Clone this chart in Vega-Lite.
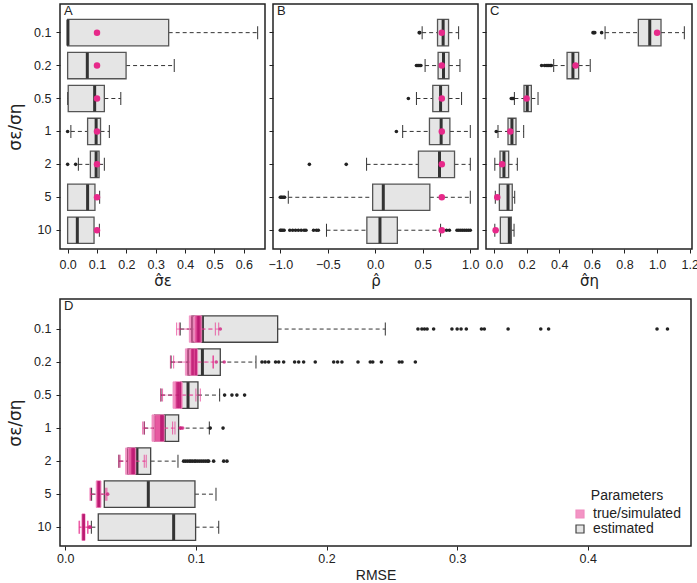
{
  "$schema": "https://vega.github.io/schema/vega-lite/v6.json",
  "padding": {"left": 5, "top": 3, "right": 6, "bottom": 2},
  "resolve": {"legend": {"fill": "independent", "stroke": "independent"}, "scale": {"fill": "independent", "stroke": "independent"}},
  "datasets": {
    "box": [
      {"p":"A","r":"0.1","g":"estimated","lo":0,"q1":0,"md":0.001,"q3":0.344,"hi":0.647},
      {"p":"A","r":"0.2","g":"estimated","lo":0,"q1":0,"md":0.067,"q3":0.199,"hi":0.363},
      {"p":"A","r":"0.5","g":"estimated","lo":0,"q1":0.002,"md":0.092,"q3":0.125,"hi":0.181},
      {"p":"A","r":"1","g":"estimated","lo":0.011,"q1":0.068,"md":0.097,"q3":0.112,"hi":0.142},
      {"p":"A","r":"2","g":"estimated","lo":0.0365,"q1":0.0774,"md":0.097,"q3":0.107,"hi":0.125},
      {"p":"A","r":"5","g":"estimated","lo":0,"q1":0,"md":0.068,"q3":0.093,"hi":0.109},
      {"p":"A","r":"10","g":"estimated","lo":0,"q1":0,"md":0.033,"q3":0.0899,"hi":0.108},
      {"p":"B","r":"0.1","g":"estimated","lo":0.493,"q1":0.655,"md":0.714,"q3":0.771,"hi":0.877},
      {"p":"B","r":"0.2","g":"estimated","lo":0.524,"q1":0.661,"md":0.718,"q3":0.775,"hi":0.891},
      {"p":"B","r":"0.5","g":"estimated","lo":0.433,"q1":0.605,"md":0.687,"q3":0.771,"hi":0.908},
      {"p":"B","r":"1","g":"estimated","lo":0.288,"q1":0.57,"md":0.693,"q3":0.785,"hi":1.0},
      {"p":"B","r":"2","g":"estimated","lo":-0.092,"q1":0.454,"md":0.676,"q3":0.834,"hi":1.0},
      {"p":"B","r":"5","g":"estimated","lo":-0.916,"q1":-0.028,"md":0.084,"q3":0.574,"hi":1.0},
      {"p":"B","r":"10","g":"estimated","lo":-0.514,"q1":-0.089,"md":0.049,"q3":0.232,"hi":0.687},
      {"p":"C","r":"0.1","g":"estimated","lo":0.681,"q1":0.885,"md":0.955,"q3":1.024,"hi":1.167},
      {"p":"C","r":"0.2","g":"estimated","lo":0.366,"q1":0.448,"md":0.484,"q3":0.519,"hi":0.59},
      {"p":"C","r":"0.5","g":"estimated","lo":0.125,"q1":0.184,"md":0.204,"q3":0.229,"hi":0.27},
      {"p":"C","r":"1","g":"estimated","lo":0.0245,"q1":0.086,"md":0.11,"q3":0.135,"hi":0.182},
      {"p":"C","r":"2","g":"estimated","lo":0.005,"q1":0.037,"md":0.061,"q3":0.09,"hi":0.143},
      {"p":"C","r":"5","g":"estimated","lo":0.008,"q1":0.033,"md":0.086,"q3":0.112,"hi":0.127},
      {"p":"C","r":"10","g":"estimated","lo":0.005,"q1":0.039,"md":0.094,"q3":0.106,"hi":0.123},
      {"p":"D","r":"0.1","g":"estimated","lo":0.088,"q1":0.097,"md":0.105,"q3":0.1626,"hi":0.245},
      {"p":"D","r":"0.2","g":"estimated","lo":0.081,"q1":0.094,"md":0.105,"q3":0.1187,"hi":0.146},
      {"p":"D","r":"0.5","g":"estimated","lo":0.0733,"q1":0.0884,"md":0.094,"q3":0.1016,"hi":0.1182},
      {"p":"D","r":"1","g":"estimated","lo":0.0605,"q1":0.0684,"md":0.0758,"q3":0.0868,"hi":0.1103},
      {"p":"D","r":"2","g":"estimated","lo":0.0411,"q1":0.048,"md":0.0549,"q3":0.0654,"hi":0.0863},
      {"p":"D","r":"5","g":"estimated","lo":0.0202,"q1":0.0299,"md":0.0636,"q3":0.0993,"hi":0.1154},
      {"p":"D","r":"10","g":"estimated","lo":0.02,"q1":0.0253,"md":0.083,"q3":0.0998,"hi":0.1175},
      {"p":"D","r":"0.1","g":"true/simulated","lo":0.0853,"q1":0.095,"md":0.1015,"q3":0.104,"hi":0.1149},
      {"p":"D","r":"0.1","g":"true/simulated","lo":0.0873,"q1":0.099,"md":0.1025,"q3":0.1045,"hi":0.1175},
      {"p":"D","r":"0.2","g":"true/simulated","lo":0.0805,"q1":0.092,"md":0.0975,"q3":0.1005,"hi":0.113},
      {"p":"D","r":"0.2","g":"true/simulated","lo":0.083,"q1":0.0957,"md":0.1,"q3":0.1014,"hi":0.1135},
      {"p":"D","r":"0.5","g":"true/simulated","lo":0.073,"q1":0.0825,"md":0.086,"q3":0.0892,"hi":0.1034},
      {"p":"D","r":"0.5","g":"true/simulated","lo":0.0745,"q1":0.084,"md":0.0875,"q3":0.0895,"hi":0.1},
      {"p":"D","r":"1","g":"true/simulated","lo":0.0593,"q1":0.0664,"md":0.0735,"q3":0.0755,"hi":0.0822},
      {"p":"D","r":"1","g":"true/simulated","lo":0.0605,"q1":0.0684,"md":0.0745,"q3":0.0758,"hi":0.084},
      {"p":"D","r":"2","g":"true/simulated","lo":0.041,"q1":0.0462,"md":0.0515,"q3":0.0535,"hi":0.062},
      {"p":"D","r":"2","g":"true/simulated","lo":0.042,"q1":0.0485,"md":0.0525,"q3":0.054,"hi":0.0605},
      {"p":"D","r":"5","g":"true/simulated","lo":0.019,"q1":0.0237,"md":0.0255,"q3":0.0273,"hi":0.0319},
      {"p":"D","r":"5","g":"true/simulated","lo":0.0195,"q1":0.024,"md":0.026,"q3":0.0272,"hi":0.031},
      {"p":"D","r":"10","g":"true/simulated","lo":0.0105,"q1":0.0128,"md":0.014,"q3":0.0151,"hi":0.0171},
      {"p":"D","r":"10","g":"true/simulated","lo":0.011,"q1":0.013,"md":0.0142,"q3":0.015,"hi":0.0175}
    ],
    "out": [
      {"p":"A","r":"1","g":"estimated","v":0.0},
      {"p":"A","r":"2","g":"estimated","v":0.0},
      {"p":"A","r":"2","g":"estimated","v":0.0273},
      {"p":"B","r":"0.1","g":"estimated","v":0.462},
      {"p":"B","r":"0.1","g":"estimated","v":0.468},
      {"p":"B","r":"0.2","g":"estimated","v":0.433},
      {"p":"B","r":"0.2","g":"estimated","v":0.447},
      {"p":"B","r":"0.2","g":"estimated","v":0.457},
      {"p":"B","r":"0.2","g":"estimated","v":0.47},
      {"p":"B","r":"0.2","g":"estimated","v":0.48},
      {"p":"B","r":"0.5","g":"estimated","v":0.348},
      {"p":"B","r":"1","g":"estimated","v":0.222},
      {"p":"B","r":"2","g":"estimated","v":-0.694},
      {"p":"B","r":"2","g":"estimated","v":-0.306},
      {"p":"B","r":"5","g":"estimated","v":-1.0},
      {"p":"B","r":"5","g":"estimated","v":-0.99},
      {"p":"B","r":"5","g":"estimated","v":-0.98},
      {"p":"B","r":"5","g":"estimated","v":-0.965},
      {"p":"B","r":"5","g":"estimated","v":-0.955},
      {"p":"B","r":"10","g":"estimated","v":-1.0},
      {"p":"B","r":"10","g":"estimated","v":-0.99},
      {"p":"B","r":"10","g":"estimated","v":-0.975},
      {"p":"B","r":"10","g":"estimated","v":-0.96},
      {"p":"B","r":"10","g":"estimated","v":-0.9},
      {"p":"B","r":"10","g":"estimated","v":-0.87},
      {"p":"B","r":"10","g":"estimated","v":-0.84},
      {"p":"B","r":"10","g":"estimated","v":-0.81},
      {"p":"B","r":"10","g":"estimated","v":-0.78},
      {"p":"B","r":"10","g":"estimated","v":-0.75},
      {"p":"B","r":"10","g":"estimated","v":-0.73},
      {"p":"B","r":"10","g":"estimated","v":-0.65},
      {"p":"B","r":"10","g":"estimated","v":-0.62},
      {"p":"B","r":"10","g":"estimated","v":-0.6},
      {"p":"B","r":"10","g":"estimated","v":0.75},
      {"p":"B","r":"10","g":"estimated","v":0.78},
      {"p":"B","r":"10","g":"estimated","v":0.86},
      {"p":"B","r":"10","g":"estimated","v":0.88},
      {"p":"B","r":"10","g":"estimated","v":0.9},
      {"p":"B","r":"10","g":"estimated","v":0.92},
      {"p":"B","r":"10","g":"estimated","v":0.94},
      {"p":"B","r":"10","g":"estimated","v":0.96},
      {"p":"B","r":"10","g":"estimated","v":0.98},
      {"p":"B","r":"10","g":"estimated","v":1.0},
      {"p":"C","r":"0.1","g":"estimated","v":0.607},
      {"p":"C","r":"0.1","g":"estimated","v":0.612},
      {"p":"C","r":"0.1","g":"estimated","v":0.618},
      {"p":"C","r":"0.1","g":"estimated","v":0.66},
      {"p":"C","r":"0.2","g":"estimated","v":0.292},
      {"p":"C","r":"0.2","g":"estimated","v":0.31},
      {"p":"C","r":"0.2","g":"estimated","v":0.32},
      {"p":"C","r":"0.2","g":"estimated","v":0.33},
      {"p":"C","r":"0.2","g":"estimated","v":0.337},
      {"p":"C","r":"0.2","g":"estimated","v":0.345},
      {"p":"C","r":"0.2","g":"estimated","v":0.352},
      {"p":"C","r":"0.5","g":"estimated","v":0.106},
      {"p":"C","r":"0.5","g":"estimated","v":0.112},
      {"p":"C","r":"0.5","g":"estimated","v":0.118},
      {"p":"C","r":"1","g":"estimated","v":0.014},
      {"p":"D","r":"0.1","g":"estimated","v":0.27},
      {"p":"D","r":"0.1","g":"estimated","v":0.273},
      {"p":"D","r":"0.1","g":"estimated","v":0.275},
      {"p":"D","r":"0.1","g":"estimated","v":0.277},
      {"p":"D","r":"0.1","g":"estimated","v":0.282},
      {"p":"D","r":"0.1","g":"estimated","v":0.296},
      {"p":"D","r":"0.1","g":"estimated","v":0.3},
      {"p":"D","r":"0.1","g":"estimated","v":0.303},
      {"p":"D","r":"0.1","g":"estimated","v":0.307},
      {"p":"D","r":"0.1","g":"estimated","v":0.3186},
      {"p":"D","r":"0.1","g":"estimated","v":0.3208},
      {"p":"D","r":"0.1","g":"estimated","v":0.339},
      {"p":"D","r":"0.1","g":"estimated","v":0.364},
      {"p":"D","r":"0.1","g":"estimated","v":0.37},
      {"p":"D","r":"0.1","g":"estimated","v":0.453},
      {"p":"D","r":"0.1","g":"estimated","v":0.461},
      {"p":"D","r":"0.2","g":"estimated","v":0.1506},
      {"p":"D","r":"0.2","g":"estimated","v":0.153},
      {"p":"D","r":"0.2","g":"estimated","v":0.1557},
      {"p":"D","r":"0.2","g":"estimated","v":0.161},
      {"p":"D","r":"0.2","g":"estimated","v":0.1634},
      {"p":"D","r":"0.2","g":"estimated","v":0.1672},
      {"p":"D","r":"0.2","g":"estimated","v":0.1756},
      {"p":"D","r":"0.2","g":"estimated","v":0.1787},
      {"p":"D","r":"0.2","g":"estimated","v":0.1825},
      {"p":"D","r":"0.2","g":"estimated","v":0.1914},
      {"p":"D","r":"0.2","g":"estimated","v":0.2055},
      {"p":"D","r":"0.2","g":"estimated","v":0.2085},
      {"p":"D","r":"0.2","g":"estimated","v":0.2118},
      {"p":"D","r":"0.2","g":"estimated","v":0.2241},
      {"p":"D","r":"0.2","g":"estimated","v":0.2335},
      {"p":"D","r":"0.2","g":"estimated","v":0.2354},
      {"p":"D","r":"0.2","g":"estimated","v":0.242},
      {"p":"D","r":"0.2","g":"estimated","v":0.2557},
      {"p":"D","r":"0.2","g":"estimated","v":0.2578},
      {"p":"D","r":"0.2","g":"estimated","v":0.268},
      {"p":"D","r":"0.5","g":"estimated","v":0.122},
      {"p":"D","r":"0.5","g":"estimated","v":0.1276},
      {"p":"D","r":"0.5","g":"estimated","v":0.1314},
      {"p":"D","r":"0.5","g":"estimated","v":0.1373},
      {"p":"D","r":"1","g":"estimated","v":0.111},
      {"p":"D","r":"1","g":"estimated","v":0.1208},
      {"p":"D","r":"2","g":"estimated","v":0.0906},
      {"p":"D","r":"2","g":"estimated","v":0.092},
      {"p":"D","r":"2","g":"estimated","v":0.0935},
      {"p":"D","r":"2","g":"estimated","v":0.095},
      {"p":"D","r":"2","g":"estimated","v":0.0962},
      {"p":"D","r":"2","g":"estimated","v":0.0975},
      {"p":"D","r":"2","g":"estimated","v":0.099},
      {"p":"D","r":"2","g":"estimated","v":0.1},
      {"p":"D","r":"2","g":"estimated","v":0.1015},
      {"p":"D","r":"2","g":"estimated","v":0.103},
      {"p":"D","r":"2","g":"estimated","v":0.1045},
      {"p":"D","r":"2","g":"estimated","v":0.106},
      {"p":"D","r":"2","g":"estimated","v":0.1075},
      {"p":"D","r":"2","g":"estimated","v":0.109},
      {"p":"D","r":"2","g":"estimated","v":0.1098},
      {"p":"D","r":"2","g":"estimated","v":0.1136},
      {"p":"D","r":"2","g":"estimated","v":0.1213},
      {"p":"D","r":"2","g":"estimated","v":0.1238},
      {"p":"D","r":"0.1","g":"true/simulated","v":0.1187},
      {"p":"D","r":"0.2","g":"true/simulated","v":0.1156},
      {"p":"D","r":"0.2","g":"true/simulated","v":0.1217},
      {"p":"D","r":"1","g":"true/simulated","v":0.088},
      {"p":"D","r":"1","g":"true/simulated","v":0.0885},
      {"p":"D","r":"1","g":"true/simulated","v":0.0899},
      {"p":"D","r":"5","g":"true/simulated","v":0.0325},
      {"p":"D","r":"10","g":"true/simulated","v":0.0185},
      {"p":"D","r":"10","g":"true/simulated","v":0.0191}
    ],
    "truth": [
      {"p":"A","r":"0.1","v":0.1},{"p":"A","r":"0.2","v":0.1},{"p":"A","r":"0.5","v":0.1},{"p":"A","r":"1","v":0.1},{"p":"A","r":"2","v":0.1},{"p":"A","r":"5","v":0.1},{"p":"A","r":"10","v":0.1},
      {"p":"B","r":"0.1","v":0.7},{"p":"B","r":"0.2","v":0.7},{"p":"B","r":"0.5","v":0.7},{"p":"B","r":"1","v":0.7},{"p":"B","r":"2","v":0.7},{"p":"B","r":"5","v":0.7},{"p":"B","r":"10","v":0.7},
      {"p":"C","r":"0.1","v":1.0},{"p":"C","r":"0.2","v":0.5},{"p":"C","r":"0.5","v":0.2},{"p":"C","r":"1","v":0.1},{"p":"C","r":"2","v":0.05},{"p":"C","r":"5","v":0.02},{"p":"C","r":"10","v":0.01}
    ]
  },
  "vconcat": [
    {
      "hconcat": [
        {
          "width": 205, "height": 245,
          "title": {"text": "A"},
          "encoding": {"y": {"field": "r", "type": "ordinal", "sort": ["0.1","0.2","0.5","1","2","5","10"],
            "scale": {"domain": ["0.1","0.2","0.5","1","2","5","10"], "paddingInner": 0.2, "paddingOuter": 0.32, "align": 0.734},
            "axis": {"title": "σε/ση", "labelPadding": 5, "titlePadding": 9, "titleFontSize": 17}}},
          "layer": [
            {"data": {"name": "box"}, "transform": [{"filter": "datum.p === 'A'"}],
             "mark": {"type": "rule", "strokeDash": [4, 3], "color": "#333", "strokeWidth": 1},
             "encoding": {"x": {"field": "lo", "type": "quantitative", "scale": {"domain": [-0.026, 0.672], "nice": false, "zero": false},
               "axis": {"title": "σ̂ε", "values": [0, 0.1, 0.2, 0.3, 0.4, 0.5, 0.6], "format": ".1f", "labelOverlap": false}}, "x2": {"field": "q1"}}},
            {"data": {"name": "box"}, "transform": [{"filter": "datum.p === 'A'"}],
             "mark": {"type": "rule", "strokeDash": [4, 3], "color": "#333", "strokeWidth": 1},
             "encoding": {"x": {"field": "q3", "type": "quantitative", "axis": {"title": "σ̂ε", "values": [0, 0.1, 0.2, 0.3, 0.4, 0.5, 0.6], "format": ".1f", "labelOverlap": false}}, "x2": {"field": "hi"}}},
            {"data": {"name": "box"}, "transform": [{"filter": "datum.p === 'A'"}],
             "mark": {"type": "tick", "size": 13, "thickness": 1, "color": "#333", "opacity": 1},
             "encoding": {"x": {"field": "lo", "type": "quantitative", "axis": {"title": "σ̂ε", "values": [0, 0.1, 0.2, 0.3, 0.4, 0.5, 0.6], "format": ".1f", "labelOverlap": false}}}},
            {"data": {"name": "box"}, "transform": [{"filter": "datum.p === 'A'"}],
             "mark": {"type": "tick", "size": 13, "thickness": 1, "color": "#333", "opacity": 1},
             "encoding": {"x": {"field": "hi", "type": "quantitative", "axis": {"title": "σ̂ε", "values": [0, 0.1, 0.2, 0.3, 0.4, 0.5, 0.6], "format": ".1f", "labelOverlap": false}}}},
            {"data": {"name": "box"}, "transform": [{"filter": "datum.p === 'A'"}],
             "mark": {"type": "bar", "fill": "#E5E5E5", "stroke": "#555", "strokeWidth": 1.3},
             "encoding": {"x": {"field": "q1", "type": "quantitative", "axis": {"title": "σ̂ε", "values": [0, 0.1, 0.2, 0.3, 0.4, 0.5, 0.6], "format": ".1f", "labelOverlap": false}}, "x2": {"field": "q3"}}},
            {"data": {"name": "box"}, "transform": [{"filter": "datum.p === 'A'"}],
             "mark": {"type": "tick", "size": 26, "thickness": 3, "color": "#333", "opacity": 1},
             "encoding": {"x": {"field": "md", "type": "quantitative", "axis": {"title": "σ̂ε", "values": [0, 0.1, 0.2, 0.3, 0.4, 0.5, 0.6], "format": ".1f", "labelOverlap": false}}}},
            {"data": {"name": "out"}, "transform": [{"filter": "datum.p === 'A'"}],
             "mark": {"type": "circle", "size": 13, "color": "#222", "opacity": 1},
             "encoding": {"x": {"field": "v", "type": "quantitative", "axis": {"title": "σ̂ε", "values": [0, 0.1, 0.2, 0.3, 0.4, 0.5, 0.6], "format": ".1f", "labelOverlap": false}}}},
            {"data": {"name": "truth"}, "transform": [{"filter": "datum.p === 'A'"}],
             "mark": {"type": "circle", "size": 42, "color": "#E7298A", "opacity": 1},
             "encoding": {"x": {"field": "v", "type": "quantitative", "axis": {"title": "σ̂ε", "values": [0, 0.1, 0.2, 0.3, 0.4, 0.5, 0.6], "format": ".1f", "labelOverlap": false}}}}
          ]
        },
        {
          "width": 205, "height": 245,
          "title": {"text": "B"},
          "encoding": {"y": {"field": "r", "type": "ordinal", "sort": ["0.1","0.2","0.5","1","2","5","10"],
            "scale": {"domain": ["0.1","0.2","0.5","1","2","5","10"], "paddingInner": 0.2, "paddingOuter": 0.32, "align": 0.734},
            "axis": {"title": null, "labels": false}}},
          "layer": [
            {"data": {"name": "box"}, "transform": [{"filter": "datum.p === 'B'"}],
             "mark": {"type": "rule", "strokeDash": [4, 3], "color": "#333", "strokeWidth": 1},
             "encoding": {"x": {"field": "lo", "type": "quantitative", "scale": {"domain": [-1.077, 1.081], "nice": false, "zero": false},
               "axis": {"title": "ρ̂", "values": [-1, -0.5, 0, 0.5, 1], "format": ".1f", "labelOverlap": false}}, "x2": {"field": "q1"}}},
            {"data": {"name": "box"}, "transform": [{"filter": "datum.p === 'B'"}],
             "mark": {"type": "rule", "strokeDash": [4, 3], "color": "#333", "strokeWidth": 1},
             "encoding": {"x": {"field": "q3", "type": "quantitative", "axis": {"title": "ρ̂", "values": [-1, -0.5, 0, 0.5, 1], "format": ".1f", "labelOverlap": false}}, "x2": {"field": "hi"}}},
            {"data": {"name": "box"}, "transform": [{"filter": "datum.p === 'B'"}],
             "mark": {"type": "tick", "size": 13, "thickness": 1, "color": "#333", "opacity": 1},
             "encoding": {"x": {"field": "lo", "type": "quantitative", "axis": {"title": "ρ̂", "values": [-1, -0.5, 0, 0.5, 1], "format": ".1f", "labelOverlap": false}}}},
            {"data": {"name": "box"}, "transform": [{"filter": "datum.p === 'B'"}],
             "mark": {"type": "tick", "size": 13, "thickness": 1, "color": "#333", "opacity": 1},
             "encoding": {"x": {"field": "hi", "type": "quantitative", "axis": {"title": "ρ̂", "values": [-1, -0.5, 0, 0.5, 1], "format": ".1f", "labelOverlap": false}}}},
            {"data": {"name": "box"}, "transform": [{"filter": "datum.p === 'B'"}],
             "mark": {"type": "bar", "fill": "#E5E5E5", "stroke": "#555", "strokeWidth": 1.3},
             "encoding": {"x": {"field": "q1", "type": "quantitative", "axis": {"title": "ρ̂", "values": [-1, -0.5, 0, 0.5, 1], "format": ".1f", "labelOverlap": false}}, "x2": {"field": "q3"}}},
            {"data": {"name": "box"}, "transform": [{"filter": "datum.p === 'B'"}],
             "mark": {"type": "tick", "size": 26, "thickness": 3, "color": "#333", "opacity": 1},
             "encoding": {"x": {"field": "md", "type": "quantitative", "axis": {"title": "ρ̂", "values": [-1, -0.5, 0, 0.5, 1], "format": ".1f", "labelOverlap": false}}}},
            {"data": {"name": "out"}, "transform": [{"filter": "datum.p === 'B'"}],
             "mark": {"type": "circle", "size": 13, "color": "#222", "opacity": 1},
             "encoding": {"x": {"field": "v", "type": "quantitative", "axis": {"title": "ρ̂", "values": [-1, -0.5, 0, 0.5, 1], "format": ".1f", "labelOverlap": false}}}},
            {"data": {"name": "truth"}, "transform": [{"filter": "datum.p === 'B'"}],
             "mark": {"type": "circle", "size": 42, "color": "#E7298A", "opacity": 1},
             "encoding": {"x": {"field": "v", "type": "quantitative", "axis": {"title": "ρ̂", "values": [-1, -0.5, 0, 0.5, 1], "format": ".1f", "labelOverlap": false}}}}
          ]
        },
        {
          "width": 206, "height": 245,
          "title": {"text": "C"},
          "encoding": {"y": {"field": "r", "type": "ordinal", "sort": ["0.1","0.2","0.5","1","2","5","10"],
            "scale": {"domain": ["0.1","0.2","0.5","1","2","5","10"], "paddingInner": 0.2, "paddingOuter": 0.32, "align": 0.734},
            "axis": {"title": null, "labels": false}}},
          "layer": [
            {"data": {"name": "box"}, "transform": [{"filter": "datum.p === 'C'"}],
             "mark": {"type": "rule", "strokeDash": [4, 3], "color": "#333", "strokeWidth": 1},
             "encoding": {"x": {"field": "lo", "type": "quantitative", "scale": {"domain": [-0.049, 1.214], "nice": false, "zero": false},
               "axis": {"title": "σ̂η", "values": [0, 0.2, 0.4, 0.6, 0.8, 1.0, 1.2], "format": ".1f", "labelOverlap": false}}, "x2": {"field": "q1"}}},
            {"data": {"name": "box"}, "transform": [{"filter": "datum.p === 'C'"}],
             "mark": {"type": "rule", "strokeDash": [4, 3], "color": "#333", "strokeWidth": 1},
             "encoding": {"x": {"field": "q3", "type": "quantitative", "axis": {"title": "σ̂η", "values": [0, 0.2, 0.4, 0.6, 0.8, 1.0, 1.2], "format": ".1f", "labelOverlap": false}}, "x2": {"field": "hi"}}},
            {"data": {"name": "box"}, "transform": [{"filter": "datum.p === 'C'"}],
             "mark": {"type": "tick", "size": 13, "thickness": 1, "color": "#333", "opacity": 1},
             "encoding": {"x": {"field": "lo", "type": "quantitative", "axis": {"title": "σ̂η", "values": [0, 0.2, 0.4, 0.6, 0.8, 1.0, 1.2], "format": ".1f", "labelOverlap": false}}}},
            {"data": {"name": "box"}, "transform": [{"filter": "datum.p === 'C'"}],
             "mark": {"type": "tick", "size": 13, "thickness": 1, "color": "#333", "opacity": 1},
             "encoding": {"x": {"field": "hi", "type": "quantitative", "axis": {"title": "σ̂η", "values": [0, 0.2, 0.4, 0.6, 0.8, 1.0, 1.2], "format": ".1f", "labelOverlap": false}}}},
            {"data": {"name": "box"}, "transform": [{"filter": "datum.p === 'C'"}],
             "mark": {"type": "bar", "fill": "#E5E5E5", "stroke": "#555", "strokeWidth": 1.3},
             "encoding": {"x": {"field": "q1", "type": "quantitative", "axis": {"title": "σ̂η", "values": [0, 0.2, 0.4, 0.6, 0.8, 1.0, 1.2], "format": ".1f", "labelOverlap": false}}, "x2": {"field": "q3"}}},
            {"data": {"name": "box"}, "transform": [{"filter": "datum.p === 'C'"}],
             "mark": {"type": "tick", "size": 26, "thickness": 3, "color": "#333", "opacity": 1},
             "encoding": {"x": {"field": "md", "type": "quantitative", "axis": {"title": "σ̂η", "values": [0, 0.2, 0.4, 0.6, 0.8, 1.0, 1.2], "format": ".1f", "labelOverlap": false}}}},
            {"data": {"name": "out"}, "transform": [{"filter": "datum.p === 'C'"}],
             "mark": {"type": "circle", "size": 13, "color": "#222", "opacity": 1},
             "encoding": {"x": {"field": "v", "type": "quantitative", "axis": {"title": "σ̂η", "values": [0, 0.2, 0.4, 0.6, 0.8, 1.0, 1.2], "format": ".1f", "labelOverlap": false}}}},
            {"data": {"name": "truth"}, "transform": [{"filter": "datum.p === 'C'"}],
             "mark": {"type": "circle", "size": 42, "color": "#E7298A", "opacity": 1},
             "encoding": {"x": {"field": "v", "type": "quantitative", "axis": {"title": "σ̂η", "values": [0, 0.2, 0.4, 0.6, 0.8, 1.0, 1.2], "format": ".1f", "labelOverlap": false}}}}
          ]
        }
      ],
      "spacing": 8,
      "bounds": "flush"
    },
    {
      "width": 631, "height": 247,
      "title": {"text": "D"},
      "encoding": {"y": {"field": "r", "type": "ordinal", "sort": ["0.1","0.2","0.5","1","2","5","10"],
        "scale": {"domain": ["0.1","0.2","0.5","1","2","5","10"], "paddingInner": 0.2, "paddingOuter": 0.34, "align": 0.75},
        "axis": {"title": "σε/ση", "labelPadding": 5, "titlePadding": 9, "titleFontSize": 17}}},
      "layer": [
        {"data": {"name": "box"}, "transform": [{"filter": "datum.p === 'D' && datum.g === 'estimated'"}],
         "mark": {"type": "rule", "strokeDash": [4, 3], "color": "#333", "strokeWidth": 1},
         "encoding": {"x": {"field": "lo", "type": "quantitative", "scale": {"domain": [-0.004, 0.479], "nice": false, "zero": false},
           "axis": {"title": "RMSE", "values": [0, 0.1, 0.2, 0.3, 0.4], "format": ".1f", "labelOverlap": false, "labelPadding": 2, "titleFontSize": 14, "titleFont": "Liberation Sans", "titlePadding": 4}}, "x2": {"field": "q1"}}},
        {"data": {"name": "box"}, "transform": [{"filter": "datum.p === 'D' && datum.g === 'estimated'"}],
         "mark": {"type": "rule", "strokeDash": [4, 3], "color": "#333", "strokeWidth": 1},
         "encoding": {"x": {"field": "q3", "type": "quantitative"}, "x2": {"field": "hi"}}},
        {"data": {"name": "box"}, "transform": [{"filter": "datum.p === 'D' && datum.g === 'estimated'"}],
         "mark": {"type": "tick", "size": 13, "thickness": 1, "color": "#333", "opacity": 1},
         "encoding": {"x": {"field": "lo", "type": "quantitative"}}},
        {"data": {"name": "box"}, "transform": [{"filter": "datum.p === 'D' && datum.g === 'estimated'"}],
         "mark": {"type": "tick", "size": 13, "thickness": 1, "color": "#333", "opacity": 1},
         "encoding": {"x": {"field": "hi", "type": "quantitative"}}},
        {"data": {"name": "box"}, "transform": [{"filter": "datum.p === 'D' && datum.g === 'estimated'"}],
         "mark": {"type": "bar", "strokeWidth": 1.3, "fillOpacity": 1},
         "encoding": {"x": {"field": "q1", "type": "quantitative"}, "x2": {"field": "q3"},
           "fill": {"field": "g", "type": "nominal", "title": "Parameters", "scale": {"domain": ["true/simulated", "estimated"], "range": ["#E7298A", "#E5E5E5"]},
             "legend": {"orient": "bottom-right", "encode": {"symbols": {"update": {"fillOpacity": {"signal": "datum.value === 'estimated' ? 1 : 0.5"}}}}}},
           "stroke": {"field": "g", "type": "nominal", "title": "Parameters", "scale": {"domain": ["true/simulated", "estimated"], "range": ["#F08CC0", "#444444"]}, "legend": {"orient": "bottom-right"}}}},
        {"data": {"name": "box"}, "transform": [{"filter": "datum.p === 'D' && datum.g === 'estimated'"}],
         "mark": {"type": "tick", "size": 26, "thickness": 3, "color": "#333", "opacity": 1},
         "encoding": {"x": {"field": "md", "type": "quantitative"}}},
        {"data": {"name": "out"}, "transform": [{"filter": "datum.p === 'D' && datum.g === 'estimated'"}],
         "mark": {"type": "circle", "size": 13, "color": "#222", "opacity": 1},
         "encoding": {"x": {"field": "v", "type": "quantitative"}}},
        {"data": {"name": "box"}, "transform": [{"filter": "datum.p === 'D' && datum.g !== 'estimated'"}],
         "mark": {"type": "rule", "strokeDash": [4, 3], "color": "#E7298A", "strokeWidth": 1, "opacity": 0.6},
         "encoding": {"x": {"field": "lo", "type": "quantitative"}, "x2": {"field": "q1"}}},
        {"data": {"name": "box"}, "transform": [{"filter": "datum.p === 'D' && datum.g !== 'estimated'"}],
         "mark": {"type": "rule", "strokeDash": [4, 3], "color": "#E7298A", "strokeWidth": 1, "opacity": 0.6},
         "encoding": {"x": {"field": "q3", "type": "quantitative"}, "x2": {"field": "hi"}}},
        {"data": {"name": "box"}, "transform": [{"filter": "datum.p === 'D' && datum.g !== 'estimated'"}],
         "mark": {"type": "tick", "size": 13, "thickness": 1, "color": "#E7298A", "opacity": 0.7},
         "encoding": {"x": {"field": "lo", "type": "quantitative"}}},
        {"data": {"name": "box"}, "transform": [{"filter": "datum.p === 'D' && datum.g !== 'estimated'"}],
         "mark": {"type": "tick", "size": 13, "thickness": 1, "color": "#E7298A", "opacity": 0.7},
         "encoding": {"x": {"field": "hi", "type": "quantitative"}}},
        {"data": {"name": "box"}, "transform": [{"filter": "datum.p === 'D' && datum.g !== 'estimated'"}],
         "mark": {"type": "bar", "strokeWidth": 1, "fillOpacity": 0.5, "strokeOpacity": 0.8},
         "encoding": {"x": {"field": "q1", "type": "quantitative"}, "x2": {"field": "q3"},
           "fill": {"field": "g", "type": "nominal", "title": "Parameters"},
           "stroke": {"field": "g", "type": "nominal", "title": "Parameters"}}},
        {"data": {"name": "box"}, "transform": [{"filter": "datum.p === 'D' && datum.g !== 'estimated'"}],
         "mark": {"type": "tick", "size": 26, "thickness": 2.5, "color": "#B8156F", "opacity": 0.75},
         "encoding": {"x": {"field": "md", "type": "quantitative"}}},
        {"data": {"name": "out"}, "transform": [{"filter": "datum.p === 'D' && datum.g !== 'estimated'"}],
         "mark": {"type": "circle", "size": 13, "color": "#D02080", "opacity": 0.8},
         "encoding": {"x": {"field": "v", "type": "quantitative"}}}
      ]
    }
  ],
  "spacing": 8,
  "config": {
    "font": "Liberation Sans",
    "view": {"stroke": "#222", "strokeWidth": 1.5},
    "axis": {"domain": false, "grid": false, "tickColor": "#222", "tickSize": 4, "tickWidth": 1, "labelColor": "#222", "labelFontSize": 12.5, "labelFont": "Liberation Sans",
      "titleColor": "#222", "titleFontWeight": "normal", "titleFontSize": 15, "titleFont": "DejaVu Sans", "labelPadding": 5, "titlePadding": 3},
    "axisX": {"labelFlush": false, "labelOverlap": false},
    "axisY": {"labelOverlap": false},
    "title": {"anchor": "start", "frame": "group", "offset": -14, "dx": 4, "fontSize": 13, "fontWeight": "normal", "color": "#222", "font": "Liberation Sans"},
    "legend": {"orient": "bottom-right", "offset": 10, "symbolType": "square", "symbolSize": 64, "symbolStrokeWidth": 1.2, "labelFontSize": 14, "titleFontSize": 14, "titleFontWeight": "normal", "titleAnchor": "middle", "labelColor": "#222", "titleColor": "#222", "rowPadding": 1, "titlePadding": 4, "labelOffset": 6}
  }
}
